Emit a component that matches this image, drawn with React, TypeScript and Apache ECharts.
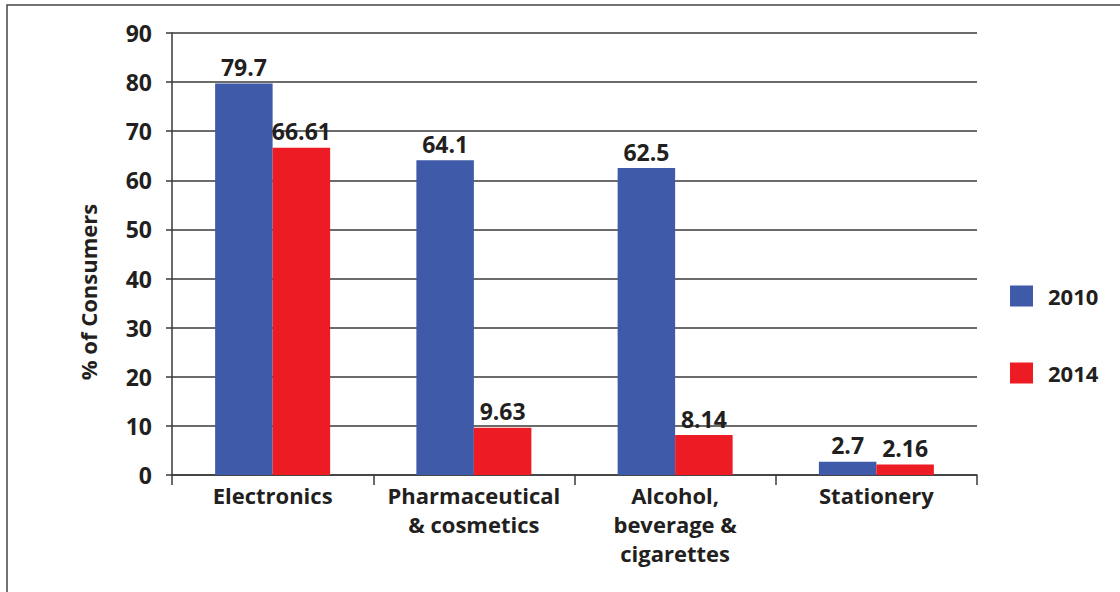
import React, { useEffect, useRef } from "react";
import * as echarts from "echarts";

const categories = ["Electronics", "Pharmaceutical\n& cosmetics", "Alcohol,\nbeverage &\ncigarettes", "Stationery"];
const series2010 = [79.7, 64.1, 62.5, 2.7];
const series2014 = [66.61, 9.63, 8.14, 2.16];
const seriesNames = ["2010", "2014"];
const yAxisTitle = "% of Consumers";

const FONT = "'Open Sans', 'Noto Sans', sans-serif";
const BLUE = "#3F5AA8";
const RED = "#ED1C24";
const LINE = "#3a3a3a";

export default function App() {
  const ref = useRef<HTMLDivElement>(null);
  useEffect(() => {
    if (!ref.current) return;
    const chart = echarts.init(ref.current, undefined, { renderer: "svg" });
    const labelCfg = {
      show: true,
      position: "top",
      distance: 5,
      fontFamily: FONT,
      fontWeight: "bold",
      fontSize: 23,
      color: "#231f20",
    };
    chart.setOption({
      animation: false,
      backgroundColor: "#ffffff",
      textStyle: { fontFamily: FONT },
      grid: { left: 172, right: 143, top: 33, bottom: 117, containLabel: false },
      legend: {
        orient: "vertical",
        left: 1005,
        top: 280,
        itemWidth: 23,
        itemHeight: 21,
        itemGap: 55,
        icon: "rect",
        data: seriesNames,
        textStyle: {
          fontFamily: FONT,
          fontWeight: "bold",
          fontSize: 22,
          color: "#231f20",
          padding: [0, 0, 0, 10],
        },
      },
      xAxis: {
        type: "category",
        data: categories,
        axisLine: { show: true, lineStyle: { color: LINE, width: 1.5 } },
        axisTick: { show: true, length: 10, lineStyle: { color: LINE, width: 1.5 } },
        axisLabel: {
          fontFamily: FONT,
          fontWeight: "bold",
          fontSize: 22,
          color: "#231f20",
          lineHeight: 29,
          margin: 5,
          interval: 0,
        },
      },
      yAxis: {
        type: "value",
        min: 0,
        max: 90,
        interval: 10,
        axisLine: { show: true, lineStyle: { color: LINE, width: 1.5 } },
        axisTick: { show: true, length: 6, lineStyle: { color: LINE, width: 1.5 } },
        axisLabel: {
          fontFamily: FONT,
          fontWeight: "bold",
          fontSize: 23,
          color: "#231f20",
          margin: 20,
        },
        splitLine: { show: true, lineStyle: { color: LINE, width: 1.5 } },
      },
      graphic: [
        {
          type: "rect",
          shape: { x: 7, y: 5, width: 1130, height: 600 },
          style: { fill: "none", stroke: "#444", lineWidth: 1.5 },
          silent: true,
        },
        {
          type: "text",
          x: 88,
          y: 292,
          rotation: Math.PI / 2,
          style: {
            text: yAxisTitle,
            fontFamily: FONT,
            fontWeight: "bold",
            fontSize: 22,
            fill: "#231f20",
            align: "center",
            verticalAlign: "middle",
          },
        },
      ],
      series: [
        {
          name: seriesNames[0],
          type: "bar",
          data: series2010,
          barWidth: 57.5,
          barGap: "0%",
          itemStyle: { color: BLUE },
          label: labelCfg,
        },
        {
          name: seriesNames[1],
          type: "bar",
          data: series2014,
          barWidth: 57.5,
          barGap: "0%",
          itemStyle: { color: RED },
          label: labelCfg,
        },
      ],
    });
    return () => chart.dispose();
  }, []);
  return (
    <div
      ref={ref}
      style={{ position: "fixed", left: 0, top: 0, width: 1120, height: 592 }}
    />
  );
}
